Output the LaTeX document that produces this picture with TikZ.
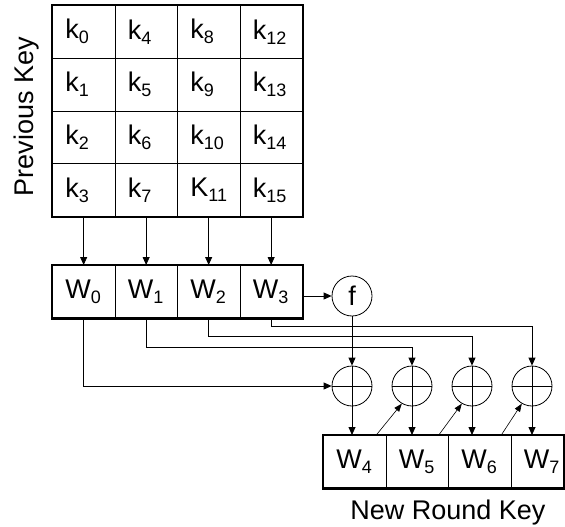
\documentclass[tikz,border=0pt]{standalone}
\usepackage{fontspec}
\setmainfont{Liberation Sans}
\usetikzlibrary{arrows.meta, positioning}
\newcommand\keysub[1]{\raisebox{-5pt}{\fontsize{18}{18}\selectfont #1}}
\newcommand\bigtext{\fontsize{27}{30}\selectfont}

\begin{document}
\begin{tikzpicture}[x=1pt, y=-1pt,
      cell/.style={draw, line width=0.8pt, anchor=north west, inner xsep=13pt, inner ysep=0pt,
                   text width=36.5pt, align=left, minimum height=52.75pt, font=\bigtext},
      outer/.style={line width=2.4pt},
      xor/.style={draw, circle, line width=0.8pt, minimum size=40pt, inner sep=0pt,
                  path picture={\draw[line width=0.8pt] (path picture bounding box.west) -- (path picture bounding box.east);
                                \draw[line width=0.8pt] (path picture bounding box.north) -- (path picture bounding box.south);}},
      fbox/.style={draw, circle, line width=0.8pt, minimum size=40pt, inner sep=0pt, font=\bigtext},
      arr/.style={-{Triangle[length=8pt, width=7pt]}, line width=0.8pt},
      thinarr/.style={-{Triangle[length=8pt, width=6pt]}, line width=0.6pt}]
    \useasboundingbox (0,0) rectangle (565,527);
    \fill[white] (0,0) rectangle (565,527);
    % previous key
    \foreach \c in {0,...,3}
      \foreach \r in {0,...,3} {
        \pgfmathtruncatemacro\n{4*\c+\r}
        \node[cell] (k\n) at (52+62.5*\c, 5+52.75*\r) {\ifnum\n=11 K\else k\fi\keysub{\n}};
      }
    \draw[outer] (k0.north west) rectangle (k15.south east);
    \node[anchor=base, rotate=90, font=\bigtext] (prev) at (33,116.5) {Previous Key};
    % words of the previous key
    \foreach \i in {0,...,3}
      \node[cell] (w\i) at (52+62.5*\i, 265) {W\keysub{\i}};
    \draw[outer] (w0.north west) rectangle (w3.south east);
    \foreach \i/\k in {0/3,1/7,2/11,3/15}
      \draw[arr] (k\k.south) -- (w\i.north);
    % new round key
    \foreach \i in {4,5,6}
      \node[cell] (w\i) at (323+62.5*\i-250, 435) {W\keysub{\i}};
    \node[cell, text width=27pt] (w7) at (510.5, 435) {W\keysub{7}};
    \draw[outer] (w4.north west) rectangle (w7.south east);
    \node[anchor=base, font=\bigtext] (new) at (448,519) {New Round Key};
    % f and xor
    \node[fbox] (f) at (352,296) {f};
    \node[xor] (x1) at (352,386) {};
    \node[xor] (x2) at (412,386) {};
    \node[xor] (x3) at (472,386) {};
    \node[xor] (x4) at (532,386) {};
    \draw[arr] (f.west -| w3.east) -- (f.west);
    \draw[arr] (f.south) -- (x1.north);
    \draw[arr] (w0.south) |- (x1.west);
    \draw[arr] (w1.south) -- ++(0,29) -| (x2.north);
    \draw[arr] (w2.south) -- ++(0,18) -| (x3.north);
    \draw[arr] (w3.south) -- ++(0,8) -| (x4.north);
    \foreach \x/\w in {1/4,2/5,3/6,4/7}
      \draw[arr] (x\x.south) -- (x\x.south |- w\w.north);
    \draw[thinarr] ([xshift=-10pt]w4.north east) -- (x2.240);
    \draw[thinarr] ([xshift=-10pt]w5.north east) -- (x3.240);
    \draw[thinarr] ([xshift=-10pt]w6.north east) -- (x4.240);
  \end{tikzpicture}
\end{document}
